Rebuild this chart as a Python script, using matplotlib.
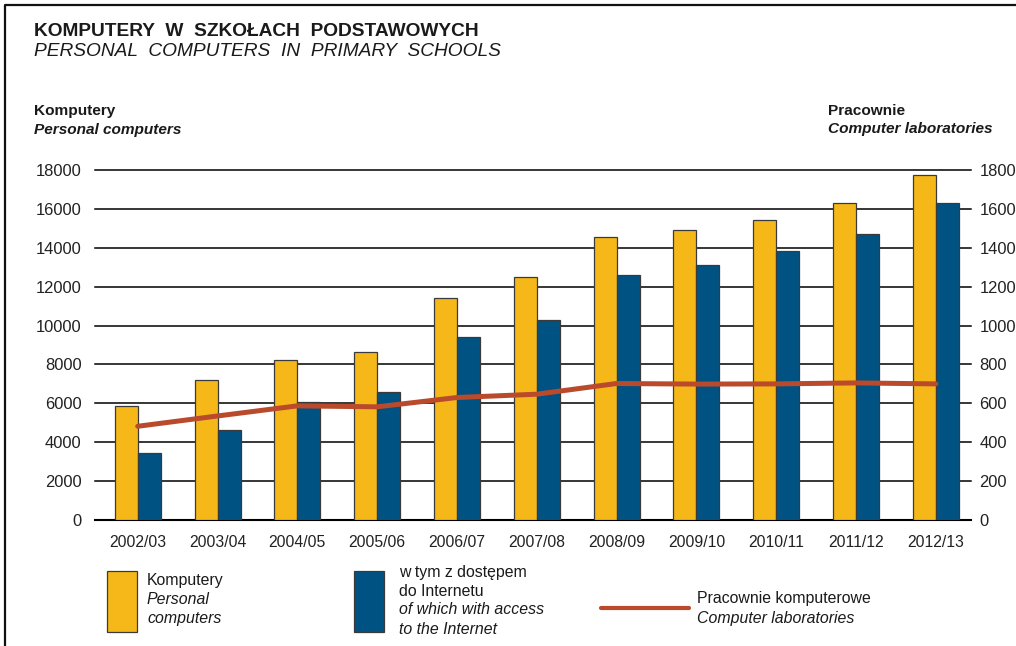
import matplotlib
matplotlib.use("Agg")
import matplotlib.pyplot as plt
from matplotlib.patches import Rectangle
from matplotlib.lines import Line2D
import numpy as np

plt.rcParams['font.family'] = ['Liberation Sans', 'DejaVu Sans']

# data
years = ['2002/03', '2003/04', '2004/05', '2005/06', '2006/07', '2007/08',
         '2008/09', '2009/10', '2010/11', '2011/12', '2012/13']
computers = [5850, 7210, 8210, 8660, 11410, 12480, 14560, 14900, 15420, 16280, 17740]
internet = [3460, 4650, 6050, 6560, 9400, 10310, 12580, 13100, 13820, 14700, 16280]
labs = [482, 535, 587, 582, 630, 647, 702, 699, 700, 705, 700]

left_ticks = list(range(0, 18001, 2000))
right_ticks = list(range(0, 1801, 200))

yellow = '#F6B819'
blue = '#005282'
red = '#BA4A2C'
edge = '#3a3a3a'

W, H = 1016, 646
fig = plt.figure(figsize=(W / 100, H / 100), dpi=100)


def fx(px):
    return px / W


def fy(py):
    return 1 - py / H


ax = fig.add_axes([fx(95), fy(520), fx(971) - fx(95), fy(170) - fy(520)])
x = np.arange(len(years))
bw = 0.288

# horizontal grid behind the bars
for t in left_ticks:
    ax.axhline(t, color='black', lw=1.5 if t == 0 else 1.1, zorder=0.5, clip_on=False)

ax.bar(x - bw / 2, computers, bw, color=yellow, edgecolor=edge, linewidth=0.9, zorder=2)
ax.bar(x + bw / 2, internet, bw, color=blue, edgecolor=edge, linewidth=0.9, zorder=2)

ax.set_xlim(-0.535, 10.44)
ax.set_ylim(0, 18000)
ax.set_yticks(left_ticks)
ax.set_yticklabels([str(t) for t in left_ticks])
ax.set_xticks(x)
ax.set_xticklabels(years)
ax.tick_params(axis='y', length=0, pad=9.6, labelsize=11.9, colors='#222222')
ax.tick_params(axis='x', length=0, pad=10.5, labelsize=11.3, colors='#222222')
for s in ax.spines.values():
    s.set_visible(False)

ax2 = ax.twinx()
ax2.plot(x, labs, color=red, lw=3.6, solid_capstyle='round', solid_joinstyle='round', zorder=3)
ax2.set_ylim(0, 1800)
ax2.set_yticks(right_ticks)
ax2.set_yticklabels([str(t) for t in right_ticks])
ax2.tick_params(axis='y', length=0, pad=6.2, labelsize=11.9, colors='#222222')
for s in ax2.spines.values():
    s.set_visible(False)

# frame lines (left and top)
fig.add_artist(Line2D([fx(5), fx(5), fx(W)], [fy(H), fy(5), fy(5)], color='#111111', lw=1.6))

# titles
fig.text(fx(34), fy(31), 'KOMPUTERY  W  SZKOŁACH  PODSTAWOWYCH', fontsize=13.8,
         fontweight='bold', va='center', ha='left', color='#1a1a1a')
fig.text(fx(34), fy(52), 'PERSONAL  COMPUTERS  IN  PRIMARY  SCHOOLS', fontsize=13.8,
         style='italic', va='center', ha='left', color='#1a1a1a')

fig.text(fx(34), fy(111), 'Komputery', fontsize=11.1, fontweight='bold', va='center', color='#1a1a1a')
fig.text(fx(34), fy(130), 'Personal computers', fontsize=11.1, fontweight='bold', style='italic',
         va='center', color='#1a1a1a')
fig.text(fx(828), fy(111), 'Pracownie', fontsize=11.1, fontweight='bold', va='center', color='#1a1a1a')
fig.text(fx(828), fy(129), 'Computer laboratories', fontsize=11.1, fontweight='bold', style='italic',
         va='center', color='#1a1a1a')

# legend
fig.add_artist(Rectangle((fx(107), fy(632)), fx(137) - fx(107), fy(571) - fy(632),
                         facecolor=yellow, edgecolor=edge, lw=0.9))
fig.add_artist(Rectangle((fx(354), fy(632)), fx(384) - fx(354), fy(571) - fy(632),
                         facecolor=blue, edgecolor=edge, lw=0.9))
fig.add_artist(Line2D([fx(601), fx(689)], [fy(608), fy(608)], color=red, lw=3.0,
                      solid_capstyle='round'))

lt = dict(fontsize=11.4, va='center', ha='left', color='#1a1a1a')
fig.text(fx(147), fy(581), 'Komputery', **lt)
fig.text(fx(147), fy(600), 'Personal', style='italic', **lt)
fig.text(fx(147), fy(619), 'computers', style='italic', **lt)
fig.text(fx(399), fy(572), 'w tym z dostępem', **lt)
fig.text(fx(399), fy(591), 'do Internetu', **lt)
fig.text(fx(399), fy(610), 'of which with access', style='italic', **lt)
fig.text(fx(399), fy(629), 'to the Internet', style='italic', **lt)
fig.text(fx(697), fy(598), 'Pracownie komputerowe', **lt)
fig.text(fx(697), fy(618), 'Computer laboratories', style='italic', **lt)

fig.savefig('out.png', dpi=100)
